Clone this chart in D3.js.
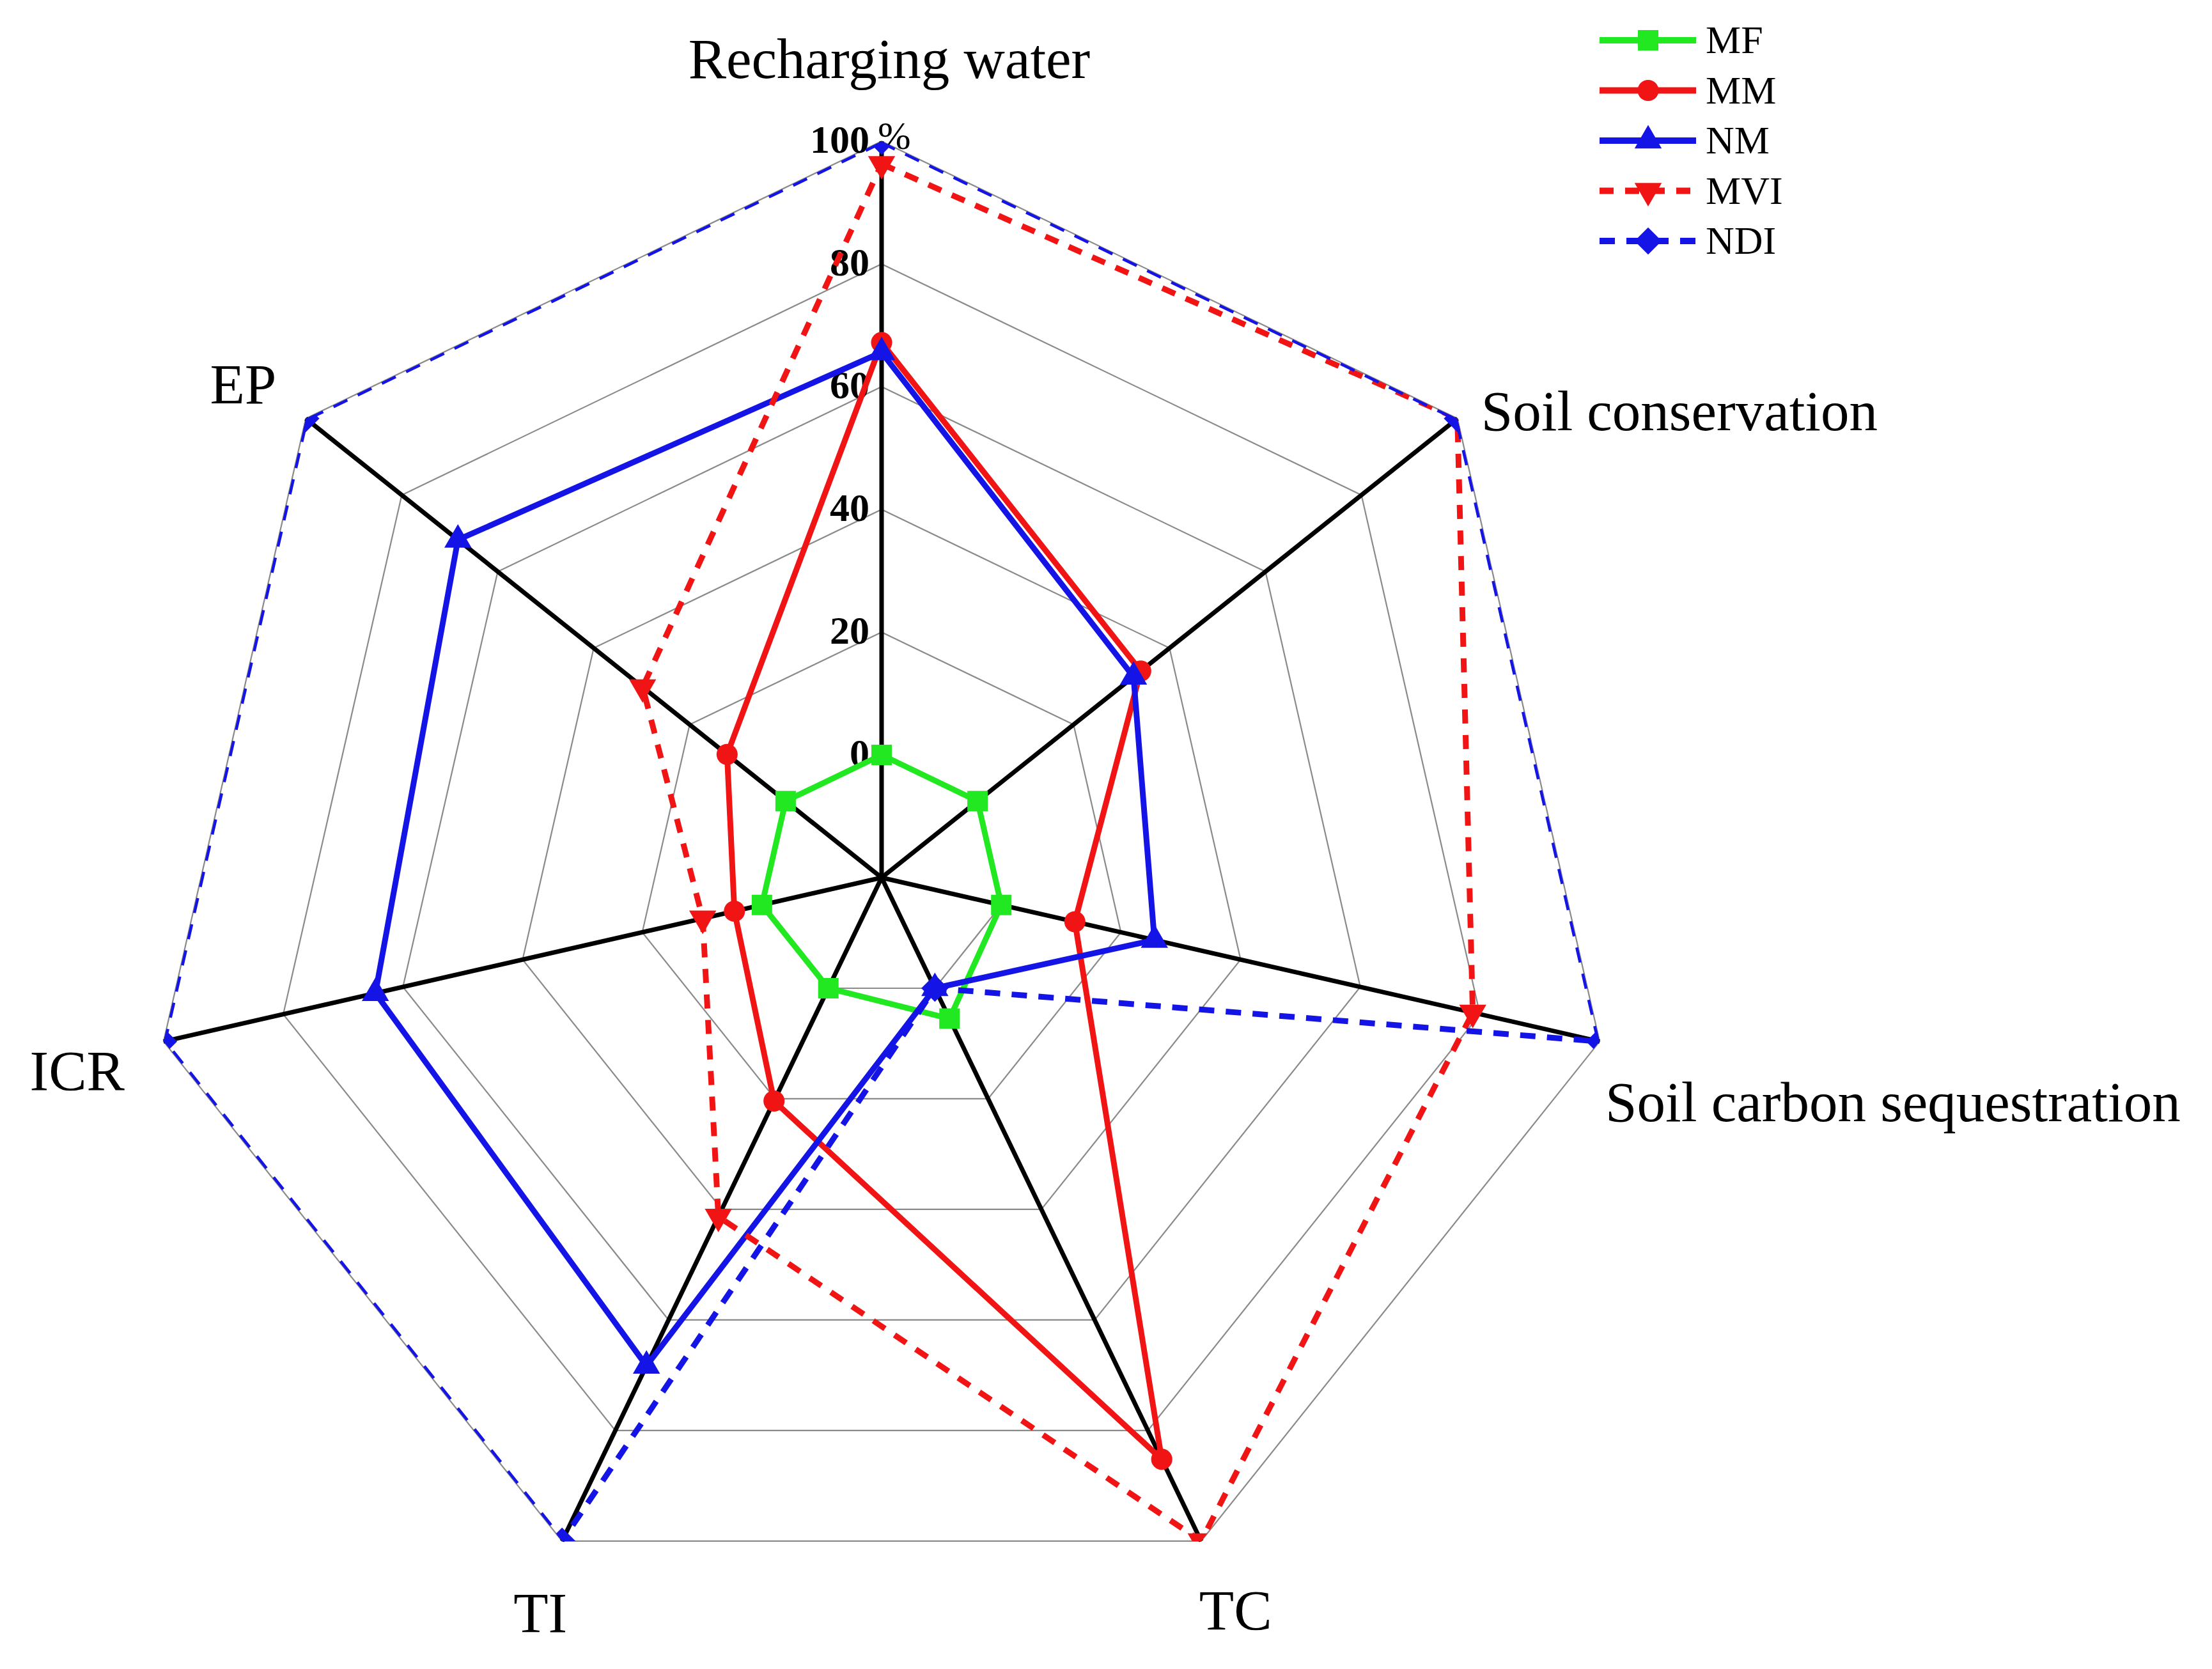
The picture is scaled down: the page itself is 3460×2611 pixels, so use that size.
<!DOCTYPE html>
<html>
<head>
<meta charset="utf-8">
<script src="https://cdn.jsdelivr.net/npm/d3@7"></script>
<style>
  html, body { margin: 0; padding: 0; background: #ffffff; }
  svg { display: block; }
</style>
</head>
<body>
<svg id="chart" width="3460" height="2611"></svg>
<script>
// ---------- data ----------
const categories = ["Recharging water", "Soil conservation", "Soil carbon sequestration", "TC", "TI", "ICR", "EP"];
const seriesNames = ["MF", "MM", "NM", "MVI", "NDI"];
const mfValues  = [0, 0, 0, 5.5, 0, 0, 0];
const mmValues  = [67.2, 34, 12.3, 85.2, 20.4, 4.6, 12.2];
const nmValues  = [65.6, 32.5, 25.6, 0, 68.3, 64.6, 68.3];
const mviValues = [96.3, 100, 78.8, 100, 41.3, 9.9, 29.8];
const ndiValues = [100, 100, 100, 0, 100, 100, 100];
const tickValues = [0, 20, 40, 60, 80, 100];
const tickLabels = ["0", "20", "40", "60", "80", "100"];

// ---------- styles ----------
const GREEN = "#22e822", RED = "#f01414", BLUE = "#1414e6";
const seriesStyle = [
  { values: mfValues,  color: GREEN, dash: null,    symbol: "square" },
  { values: mmValues,  color: RED,   dash: null,    symbol: "circle" },
  { values: nmValues,  color: BLUE,  dash: null,    symbol: "triangle" },
  { values: mviValues, color: RED,   dash: "22,18", symbol: "down" },
  { values: ndiValues, color: BLUE,  dash: "24,18", symbol: "diamond" }
];

const svg = d3.select("#chart");
svg.append("rect").attr("width", 3460).attr("height", 2611).attr("fill", "#fff");

const cx = 1379, cy = 1373, R = 1152;
const n = categories.length;
const r = d3.scaleLinear().domain([-20, 100]).range([0, R]);
const ang = d3.scaleLinear().domain([0, n]).range([0, 2 * Math.PI]);
const px = (i, v) => r(v) * Math.sin(ang(i));
const py = (i, v) => -r(v) * Math.cos(ang(i));

const g = svg.append("g").attr("transform", `translate(${cx},${cy})`);

const radial = d3.lineRadial()
  .angle((d, i) => ang(i))
  .radius(d => r(d))
  .curve(d3.curveLinearClosed);

// clip to outer ring
svg.append("defs").append("clipPath").attr("id", "plotclip")
  .append("path")
  .attr("transform", `translate(${cx},${cy})`)
  .attr("d", radial(categories.map(() => 100)));

// grid rings
g.append("g").selectAll("path").data(tickValues).join("path")
  .attr("d", t => radial(categories.map(() => t)))
  .attr("fill", "none").attr("stroke", "#8a8a8a").attr("stroke-width", 2.2);

// axes
g.append("g").selectAll("line").data(categories).join("line")
  .attr("x1", 0).attr("y1", 0)
  .attr("x2", (d, i) => px(i, 100)).attr("y2", (d, i) => py(i, 100))
  .attr("stroke", "#000").attr("stroke-width", 7);

// tick labels (on first axis)
const tickG = g.append("g")
  .attr("font-family", "'Liberation Serif', 'Times New Roman', serif")
  .attr("font-weight", "bold").attr("font-size", 62).attr("fill", "#000");
tickG.selectAll("text").data(tickValues).join("text")
  .attr("x", -19).attr("y", t => py(0, t) + 18)
  .attr("text-anchor", "end")
  .text((t, i) => tickLabels[i]);
g.append("text")
  .attr("x", -6).attr("y", py(0, 100) + 12)
  .attr("font-family", "'Liberation Serif', 'Times New Roman', serif")
  .attr("font-size", 62).attr("fill", "#000")
  .text("%");

// axis labels
const labelOffsets = [
  { dx: 12,  dy: -99, anchor: "middle" },
  { dx: 37,  dy: 18,  anchor: "start" },
  { dx: 9,   dy: 125, anchor: "start" },
  { dx: -3,  dy: 138, anchor: "start" },
  { dx: 8,   dy: 142, anchor: "end" },
  { dx: -61, dy: 76,  anchor: "end" },
  { dx: -46, dy: -24, anchor: "end" }
];
g.append("g")
  .attr("font-family", "'Liberation Serif', 'Times New Roman', serif")
  .attr("font-size", 89).attr("fill", "#000")
  .selectAll("text").data(categories).join("text")
  .attr("x", (d, i) => px(i, 100) + labelOffsets[i].dx)
  .attr("y", (d, i) => py(i, 100) + labelOffsets[i].dy)
  .attr("text-anchor", (d, i) => labelOffsets[i].anchor)
  .text(d => d);

// symbols
function symbolPath(kind) {
  switch (kind) {
    case "square":   return d3.symbol(d3.symbolSquare, 1024)();
    case "circle":   return d3.symbol(d3.symbolCircle, 860)();
    case "triangle": return d3.symbol(d3.symbolTriangle, 780)();
    case "down":     return d3.symbol(d3.symbolTriangle, 780)();
    case "diamond":  return d3.symbol(d3.symbolSquare, 900)();
  }
}
function symbolRotate(kind) {
  if (kind === "down") return 180;
  if (kind === "diamond") return 45;
  return 0;
}

// series (clipped to the outer ring)
const clipWrap = svg.append("g").attr("clip-path", "url(#plotclip)");
const sg = clipWrap.append("g").attr("transform", `translate(${cx},${cy})`);

seriesStyle.forEach((s, k) => {
  const grp = sg.append("g").attr("class", "series-" + seriesNames[k]);
  grp.append("path")
    .attr("d", radial(s.values))
    .attr("fill", "none")
    .attr("stroke", s.color)
    .attr("stroke-width", 9)
    .attr("stroke-linejoin", "round")
    .attr("stroke-dasharray", s.dash);
  grp.selectAll("path.m").data(s.values).join("path")
    .attr("class", "m")
    .attr("d", symbolPath(s.symbol))
    .attr("transform", (v, i) => `translate(${px(i, v)},${py(i, v)}) rotate(${symbolRotate(s.symbol)})`)
    .attr("fill", s.color);
});

// legend
const leg = svg.append("g").attr("transform", "translate(2502,63)");
const rowH = 78.5;
seriesStyle.forEach((s, k) => {
  const row = leg.append("g").attr("transform", `translate(0,${k * rowH})`);
  row.append("line")
    .attr("x1", 0).attr("x2", 151).attr("y1", 0).attr("y2", 0)
    .attr("stroke", s.color).attr("stroke-width", 10)
    .attr("stroke-dasharray", s.dash);
  row.append("path")
    .attr("d", symbolPath(s.symbol))
    .attr("transform", `translate(76,0) rotate(${symbolRotate(s.symbol)})`)
    .attr("fill", s.color);
  row.append("text")
    .attr("x", 166).attr("y", 20)
    .attr("font-family", "'Liberation Serif', 'Times New Roman', serif")
    .attr("font-size", 62).attr("fill", "#000")
    .text(seriesNames[k]);
});
</script>
</body>
</html>
